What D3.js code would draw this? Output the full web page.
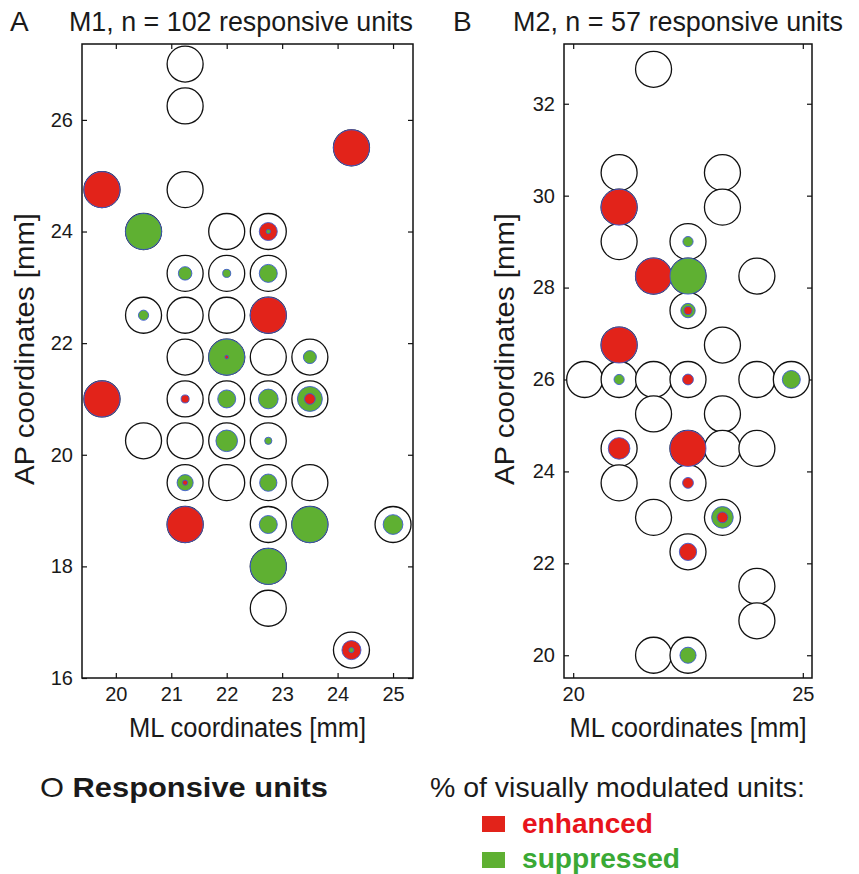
<!DOCTYPE html>
<html><head><meta charset="utf-8">
<script src="https://cdn.jsdelivr.net/npm/d3@7"></script>
<style>body{margin:0;background:#fff}svg{display:block;font-family:"Liberation Sans",Arial,sans-serif}</style>
</head><body><svg id="c" width="859" height="874"></svg>
<script>
// ---- Panel A (M1) sites: ML, AP, % enhanced, % suppressed
const m1ML  = [21.25,21.25,24.25,19.75,21.25,20.5,22,22.75,21.25,22,22.75,20.5,21.25,22,22.75,21.25,22,22.75,23.5,19.75,21.25,22,22.75,23.5,20.5,21.25,22,22.75,21.25,22,22.75,23.5,21.25,22.75,23.5,25,22.75,22.75,24.25];
const m1AP  = [27,26.25,25.5,24.75,24.75,24,24,24,23.25,23.25,23.25,22.5,22.5,22.5,22.5,21.75,21.75,21.75,21.75,21,21,21,21,21,20.25,20.25,20.25,20.25,19.5,19.5,19.5,19.5,18.75,18.75,18.75,18.75,18,17.25,16.5];
const m1Enh = [0,0,100,100,0,0,0,25,0,0,0,0,0,0,100,0,1,0,0,100,5,0,0,9,0,0,0,0,2,0,0,0,100,0,0,0,0,0,28];
const m1Sup = [0,0,0,0,0,100,0,1.5,14,5,25,8,0,0,0,0,100,0,13,0,0,25,30,48,0,0,36,4,20,0,23,0,0,25,100,30,100,0,2];
// ---- Panel B (M2)
const m2ML  = [21.75,21,23.25,21,23.25,21,22.5,21.75,22.5,24,22.5,21,23.25,20.25,21,21.75,22.5,24,24.75,21.75,23.25,21,22.5,23.25,24,21,22.5,21.75,23.25,22.5,24,24,21.75,22.5];
const m2AP  = [32.75,30.5,30.5,29.75,29.75,29,29,28.25,28.25,28.25,27.5,26.75,26.75,26,26,26,26,26,26,25.25,25.25,24.5,24.5,24.5,24.5,23.75,23.75,23,23,22.25,21.5,20.75,20,20];
const m2Enh = [0,0,0,100,0,0,0,100,0,0,5,100,0,0,0,0,9,0,0,0,0,36,100,0,0,0,9,0,9,23,0,0,0,0];
const m2Sup = [0,0,0,0,0,0,8,0,100,0,16,0,0,0,8,0,0,0,25,0,0,0,0,0,0,0,0,0,36,0,0,0,0,20];
// ---- axes
const m1XTicks = [20,21,22,23,24,25];
const m1YTicks = [16,18,20,22,24,26];
const m2XTicks = [20,25];
const m2YTicks = [20,22,24,26,28,30,32];
const titles = ["M1, n = 102 responsive units","M2, n = 57 responsive units"];
const letters = ["A","B"];
const legendLabels = ["enhanced","suppressed"];

const RED = "#e2231a", GREEN = "#5fb032", BLUE = "#3d5bd0";
const svg = d3.select("#c");
const rScale = d3.scaleSqrt().domain([0,100]).range([0,18]);

function panel(cfg){
  const {ml,ap,enh,sup,x0,x1,xd,yd,xt,yt} = cfg;
  const top=44, bot=678;
  const x = d3.scaleLinear().domain(xd).range([x0,x1]);
  const y = d3.scaleLinear().domain(yd).range([bot,top]);
  const g = svg.append("g");
  const fmt = d3.format("d");
  const ax = (a, t, lab) => a.tickValues(t).tickSizeInner(-5).tickSizeOuter(0).tickPadding(9).tickFormat(lab?fmt:"");
  const style = sel => { sel.select(".domain").remove(); sel.selectAll("line").attr("stroke","#111").attr("stroke-width",1.2);
    sel.selectAll("text").attr("font-size",20).attr("fill","#1a1a1a").attr("font-family","Liberation Sans, Arial, sans-serif"); };
  g.append("g").attr("transform",`translate(0,${bot})`).call(ax(d3.axisBottom(x),xt,true)).call(style);
  g.append("g").attr("transform",`translate(0,${top})`).call(ax(d3.axisTop(x),xt,false)).call(style);
  g.append("g").attr("transform",`translate(${x0},0)`).call(ax(d3.axisLeft(y),yt,true)).call(style);
  g.append("g").attr("transform",`translate(${x1},0)`).call(ax(d3.axisRight(y),yt,false)).call(style);
  g.append("rect").attr("x",x0).attr("y",top).attr("width",x1-x0).attr("height",bot-top)
    .attr("fill","none").attr("stroke","#111").attr("stroke-width",1.5);
  const data = ml.map((m,i)=>({ml:m,ap:ap[i],enh:enh[i],sup:sup[i]}));
  g.append("g").selectAll("circle").data(data).join("circle")
    .attr("cx",d=>x(d.ml)).attr("cy",d=>y(d.ap)).attr("r",rScale(100))
    .attr("fill","#fff").attr("stroke","#111").attr("stroke-width",1.3);
  const fills = [];
  data.forEach(d=>{
    const parts=[{v:d.enh,c:RED},{v:d.sup,c:GREEN}].filter(p=>p.v>0).sort((a,b)=>b.v-a.v);
    parts.forEach(p=>fills.push({x:x(d.ml),y:y(d.ap),r:rScale(p.v),c:p.c}));
  });
  g.append("g").selectAll("circle").data(fills).join("circle")
    .attr("cx",d=>d.x).attr("cy",d=>d.y).attr("r",d=>d.r)
    .attr("fill",d=>d.c).attr("stroke",BLUE).attr("stroke-width",0.9);
  // labels
  g.append("text").attr("x",(x0+x1)/2).attr("y",737).attr("text-anchor","middle")
    .attr("font-size",27).attr("textLength",237).attr("lengthAdjust","spacingAndGlyphs")
    .attr("fill","#1a1a1a").text("ML coordinates [mm]");
  g.append("text").attr("transform",`translate(${cfg.ylx},349) rotate(-90)`).attr("text-anchor","middle")
    .attr("font-size",27).attr("textLength",272).attr("lengthAdjust","spacingAndGlyphs")
    .attr("fill","#1a1a1a").text("AP coordinates [mm]");
  g.append("text").attr("x",cfg.lx).attr("y",31).attr("font-size",28).attr("fill","#1a1a1a").text(cfg.letter);
  g.append("text").attr("x",cfg.tx).attr("y",31).attr("font-size",27).attr("textLength",cfg.tw)
    .attr("lengthAdjust","spacingAndGlyphs").attr("fill","#1a1a1a").text(cfg.title);
}

panel({ml:m1ML,ap:m1AP,enh:m1Enh,sup:m1Sup,x0:82,x1:413,xd:[19.39,25.36],yd:[16,27.36],xt:m1XTicks,yt:m1YTicks,
  ylx:34,lx:10,tx:69,tw:344,letter:letters[0],title:titles[0]});
panel({ml:m2ML,ap:m2AP,enh:m2Enh,sup:m2Sup,x0:564,x1:812,xd:[19.80,25.2],yd:[19.505,33.3],xt:m2XTicks,yt:m2YTicks,
  ylx:514,lx:453,tx:513,tw:330,letter:letters[1],title:titles[1]});

// legend
const lg = svg.append("g").attr("fill","#1a1a1a");
const t1 = lg.append("text").attr("x",40).attr("y",797).attr("font-size",28).attr("textLength",288).attr("lengthAdjust","spacingAndGlyphs");
t1.append("tspan").text("O ");
t1.append("tspan").attr("font-weight","bold").text("Responsive units");
lg.append("text").attr("x",430).attr("y",797).attr("font-size",28).attr("textLength",375).attr("lengthAdjust","spacingAndGlyphs")
  .text("% of visually modulated units:");
const legColors=[RED,GREEN], legTextColors=["#e8141c","#3aa935"], legW=[131,158];
legendLabels.forEach((l,i)=>{
  lg.append("rect").attr("x",482).attr("y",816+i*36).attr("width",23).attr("height",16).attr("fill",legColors[i]);
  lg.append("text").attr("x",522).attr("y",833+i*35).attr("font-size",28).attr("font-weight","bold")
    .attr("textLength",legW[i]).attr("lengthAdjust","spacingAndGlyphs").attr("fill",legTextColors[i]).text(l);
});
</script></body></html>
